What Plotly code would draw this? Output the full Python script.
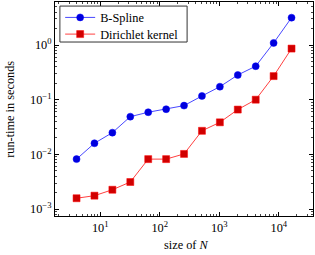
import plotly.graph_objects as go

N = [4, 8, 16, 32, 64, 128, 256, 512, 1024, 2048, 4096, 8192, 16384]
bspline = [0.0082, 0.016, 0.025, 0.049, 0.059, 0.067, 0.078, 0.117, 0.173, 0.283, 0.41, 1.09, 3.16]
dirichlet = [0.00158, 0.00176, 0.00226, 0.00313, 0.0082, 0.0082, 0.0102, 0.027, 0.0386, 0.066, 0.1, 0.27, 0.86]

x_major = [10, 100, 1000, 10000]
x_major_text = ["10<sup>1</sup>", "10<sup>2</sup>", "10<sup>3</sup>", "10<sup>4</sup>"]
y_major = [0.001, 0.01, 0.1, 1]
y_major_text = ["10<sup>−3</sup>", "10<sup>−2</sup>", "10<sup>−1</sup>", "10<sup>0</sup>"]

x_minor = [m * 10 ** e for e in range(0, 5) for m in range(2, 10)]
y_minor = [m * 10 ** e for e in range(-4, 1) for m in range(2, 10)]

font = "'Liberation Serif', 'DejaVu Serif', serif"
fsize = 12.3

fig = go.Figure()
fig.add_trace(go.Scatter(
    x=N, y=bspline, mode="lines+markers", name="B-Spline", legend="legend",
    line=dict(color="#4848ff", width=1),
    marker=dict(symbol="circle", size=7, color="#0000dd", line=dict(color="#0000ff", width=0.5)),
))
fig.add_trace(go.Scatter(
    x=N, y=dirichlet, mode="lines+markers", name="Dirichlet kernel", legend="legend2",
    line=dict(color="#ff4040", width=1),
    marker=dict(symbol="square", size=7, color="#d00000", line=dict(color="#ff0000", width=0.5)),
))

axis_common = dict(
    type="log", showgrid=False, zeroline=False, automargin=False,
    showline=True, linecolor="black", linewidth=1, mirror="allticks",
    ticks="inside", ticklen=4, tickcolor="black", tickwidth=0.8,
    tickfont=dict(family=font, size=fsize, color="black"),
)

fig.update_xaxes(
    **axis_common,
    range=[0.24, 4.575],
    tickmode="array", tickvals=x_major, ticktext=x_major_text,
    minor=dict(tickmode="array", tickvals=x_minor, ticks="inside", ticklen=2, tickcolor="#444", tickwidth=0.6),
)
fig.update_yaxes(
    **axis_common,
    range=[-3.126, 0.786],
    tickmode="array", tickvals=y_major, ticktext=y_major_text,
    minor=dict(tickmode="array", tickvals=y_minor, ticks="inside", ticklen=2, tickcolor="#444", tickwidth=0.6),
)

fig.add_annotation(
    text="size of <i>N</i>", xref="paper", yref="paper", x=0.51, y=-0.135,
    xanchor="center", yanchor="middle", showarrow=False,
    font=dict(family=font, size=fsize, color="black"),
)
fig.add_annotation(
    text="run-time in seconds", xref="paper", yref="paper", x=-0.175, y=0.5,
    xanchor="center", yanchor="middle", showarrow=False, textangle=-90,
    font=dict(family=font, size=fsize, color="black"),
)

# legend frame
fig.add_shape(
    type="rect", xref="paper", yref="paper", x0=0.019, x1=0.512, y0=0.813, y1=0.981,
    line=dict(color="#333", width=1), fillcolor="white", layer="above",
)

legend_common = dict(
    x=0.02, xanchor="left", yanchor="middle",
    bgcolor="rgba(0,0,0,0)", borderwidth=0,
    font=dict(family=font, size=fsize, color="black"),
    tracegroupgap=0, itemwidth=30,
)

fig.update_layout(
    width=315, height=255,
    margin=dict(l=55, r=2, t=2, b=39),
    paper_bgcolor="white", plot_bgcolor="white",
    showlegend=True,
    font=dict(family=font, size=fsize, color="black"),
    legend=dict(y=0.928, **legend_common),
    legend2=dict(y=0.850, **legend_common),
)

fig.write_html(
    "out.html",
    config={"displayModeBar": False},
    post_script="document.body.style.margin='0';document.body.style.overflow='hidden';",
)
